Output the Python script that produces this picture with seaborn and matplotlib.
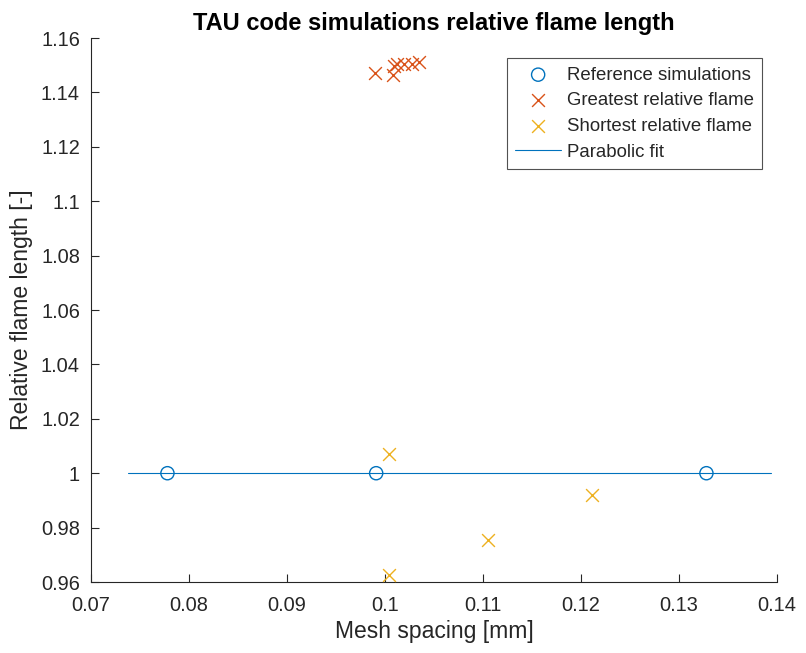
import numpy as np
import pandas as pd
import matplotlib
matplotlib.use("Agg")
import matplotlib.pyplot as plt
import seaborn as sns

# Reference simulations (mesh spacing in mm, relative flame length)
ref_spacing = [0.0778, 0.0991, 0.1328]
ref_length = [1.0, 1.0, 1.0]

# Greatest relative flame length per run
great_spacing = [0.0990, 0.1008, 0.1009, 0.1012, 0.1019, 0.1028, 0.1035]
great_length = [1.1473, 1.1464, 1.1497, 1.1504, 1.1504, 1.1506, 1.1510]

# Shortest relative flame length per run
short_spacing = [0.1004, 0.1004, 0.1105, 0.1211]
short_length = [1.0071, 0.9626, 0.9755, 0.9920]

# Range over which the parabolic fit is evaluated
fit_range = [0.0738, 0.1394]

x_ticks = [0.07, 0.08, 0.09, 0.10, 0.11, 0.12, 0.13, 0.14]
x_tick_labels = ["0.07", "0.08", "0.09", "0.1", "0.11", "0.12", "0.13", "0.14"]
y_ticks = [0.96, 0.98, 1.00, 1.02, 1.04, 1.06, 1.08, 1.10, 1.12, 1.14, 1.16]
y_tick_labels = ["0.96", "0.98", "1", "1.02", "1.04", "1.06", "1.08", "1.1", "1.12", "1.14", "1.16"]

BLUE = "#0072BD"
RED = "#D95319"
YELLOW = "#EDB120"
AXIS = "#262626"

sns.set_theme(style="white")
plt.rcParams["font.family"] = ["Liberation Sans", "DejaVu Sans"]

fig = plt.figure(figsize=(8.06, 6.53), dpi=100)
ax = fig.add_axes([0.1129, 0.1087, 0.8511, 0.8331])

# Parabolic fit through the reference simulations
coef = np.polyfit(ref_spacing, ref_length, 2)
xs = np.linspace(fit_range[0], fit_range[1], 200)
fit_df = pd.DataFrame({"x": xs, "y": np.polyval(coef, xs)})

ref_df = pd.DataFrame({"x": ref_spacing, "y": ref_length})
great_df = pd.DataFrame({"x": great_spacing, "y": great_length})
short_df = pd.DataFrame({"x": short_spacing, "y": short_length})

sns.lineplot(data=fit_df, x="x", y="y", ax=ax, color=BLUE, linewidth=0.8,
             label="Parabolic fit", zorder=1)
sns.scatterplot(data=ref_df, x="x", y="y", ax=ax, marker="o", s=90,
                facecolor="none", edgecolor=BLUE, linewidth=1.0,
                label="Reference simulations", zorder=3)
sns.scatterplot(data=great_df, x="x", y="y", ax=ax, marker="x", s=85,
                color=RED, linewidth=1.0,
                label="Greatest relative flame", zorder=3)
sns.scatterplot(data=short_df, x="x", y="y", ax=ax, marker="x", s=85,
                color=YELLOW, linewidth=1.0,
                label="Shortest relative flame", zorder=3)

ax.set_xlim(0.07, 0.14)
ax.set_ylim(0.96, 1.16)
ax.set_xticks(x_ticks)
ax.set_xticklabels(x_tick_labels)
ax.set_yticks(y_ticks)
ax.set_yticklabels(y_tick_labels)

ax.tick_params(axis="both", which="both", direction="in", length=6, width=0.8,
               color=AXIS, labelcolor=AXIS, labelsize=14.4,
               top=False, right=False, bottom=True, left=True)
ax.tick_params(axis="x", pad=10)
ax.tick_params(axis="y", pad=8)
for side in ["top", "right"]:
    ax.spines[side].set_visible(False)
for side in ["left", "bottom"]:
    ax.spines[side].set_color(AXIS)
    ax.spines[side].set_linewidth(0.8)

ax.set_xlabel("Mesh spacing [mm]", fontsize=16.5, color=AXIS, labelpad=4)
ax.set_ylabel("Relative flame length [-]", fontsize=16.5, color=AXIS, labelpad=6)
ax.set_title("TAU code simulations relative flame length", fontsize=17,
             fontweight="bold", color="black", pad=6)

handles, labels = ax.get_legend_handles_labels()
order = [labels.index(n) for n in ["Reference simulations", "Greatest relative flame",
                                    "Shortest relative flame", "Parabolic fit"]]
leg = ax.legend([handles[i] for i in order], [labels[i] for i in order],
                loc="upper right", bbox_to_anchor=(0.978, 0.963),
                fontsize=13.4, frameon=True, fancybox=False, borderpad=0.45,
                handlelength=2.45, handletextpad=0.3, labelspacing=0.47,
                borderaxespad=0.0)
leg.get_frame().set_edgecolor(AXIS)
leg.get_frame().set_linewidth(0.8)
for t in leg.get_texts():
    t.set_color(AXIS)

fig.savefig("out.png", dpi=100)
